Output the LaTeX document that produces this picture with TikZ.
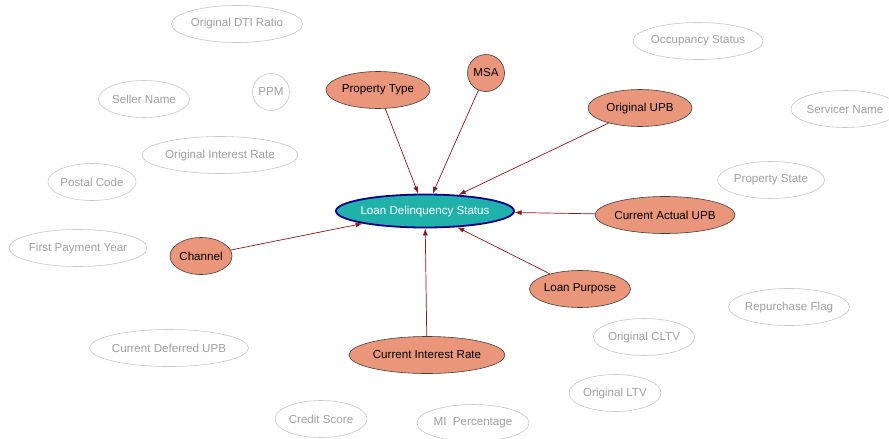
\documentclass[tikz,border=0pt]{standalone}
\usepackage{fontspec}
\setmainfont{Liberation Sans}
\definecolor{main}{RGB}{32,178,170}
\definecolor{second}{RGB}{233,150,122}
\definecolor{third}{RGB}{0,0,139}
\definecolor{fourth}{RGB}{139,26,26}
\definecolor{fifth}{RGB}{160,160,160}
\usepackage{tikz}
\usetikzlibrary{
	arrows.meta,
	shapes.geometric
}
\tikzset{
  % arrow
	cstlink/.style     ={-{Latex[length=7pt,width=5pt]}, draw=fourth, line width=0.7pt},
  % node
	csttarget/.style   ={ellipse, fill=main, draw=third, line width=1.8pt, text=white, inner xsep=-30pt, inner ysep=0pt},
	cstfeat/.style     ={ellipse, fill=second, draw=black!75, line width=0.6pt, text=black, inner xsep=-30pt, inner ysep=0pt, minimum height=37pt},
	cstidle/.style     ={ellipse, draw=black!22, line width=0.6pt, text=fifth, inner xsep=-30pt, inner ysep=0pt, minimum height=37pt},
	cstfeatc/.style    ={circle, fill=second, draw=black!75, line width=0.6pt, text=black, inner sep=0pt, minimum size=37pt},
	cstidlec/.style    ={circle, draw=black!22, line width=0.6pt, text=fifth, inner sep=0pt, minimum size=37pt}
}

\begin{document}
\begin{tikzpicture}[x=1pt,y=-1pt,font=\fontsize{11.6}{13}\selectfont]
			\clip (0,0) rectangle (889,439);
			\fill[white] (0,0) rectangle (889,439);
			% target
			\node[csttarget, minimum width=178pt, minimum height=33pt] (status) at (425,211) {Loan Delinquency Status};
			% features
			\node[cstfeat, minimum width=104pt] (ptype) at (378,90) {Property Type};
			\node[cstfeatc] (msa) at (486,73) {MSA};
			\node[cstfeat, minimum width=104pt] (oupb) at (640,108) {Original UPB};
			\node[cstfeat, minimum width=140pt] (cupb) at (665,215) {Current Actual UPB};
			\node[cstfeat, minimum width=101pt] (purpose) at (580,289) {Loan Purpose};
			\node[cstfeat, minimum width=156pt] (crate) at (427,355) {Current Interest Rate};
			\node[cstfeat, minimum width=62pt] (channel) at (201,256) {Channel};
			% unused
			\node[cstidle, minimum width=131pt] (dti) at (237,24) {Original DTI Ratio};
			\node[cstidlec] (ppm) at (271,92) {PPM};
			\node[cstidle, minimum width=91pt] (seller) at (144,99) {Seller Name};
			\node[cstidle, minimum width=156pt] (orate) at (220,155) {Original Interest Rate};
			\node[cstidle, minimum width=88pt] (postal) at (92,182) {Postal Code};
			\node[cstidle, minimum width=138pt] (fpy) at (78,248) {First Payment Year};
			\node[cstidle, minimum width=130pt] (occ) at (698,41) {Occupancy Status};
			\node[cstidle, minimum width=108pt] (servicer) at (845,109) {Servicer Name};
			\node[cstidle, minimum width=107pt] (pstate) at (771,180) {Property State};
			\node[cstidle, minimum width=121pt] (flag) at (789,307) {Repurchase Flag};
			\node[cstidle, minimum width=101pt] (cltv) at (644,337) {Original CLTV};
			\node[cstidle, minimum width=159pt] (dupb) at (169,348) {Current Deferred UPB};
			\node[cstidle, minimum width=92pt] (score) at (321,419) {Credit Score};
			\node[cstidle, minimum width=112pt] (mi) at (473,423) {MI\ \ Percentage};
			\node[cstidle, minimum width=92pt] (ltv) at (615,393) {Original LTV};
			% links
			\draw[cstlink] (ptype) -- (status);
			\draw[cstlink] (msa) -- (status);
			\draw[cstlink] (oupb) -- (status);
			\draw[cstlink] (cupb) -- (status);
			\draw[cstlink] (purpose) -- (status);
			\draw[cstlink] (crate) -- (status);
			\draw[cstlink] (channel) -- (status);
		\end{tikzpicture}
\end{document}
